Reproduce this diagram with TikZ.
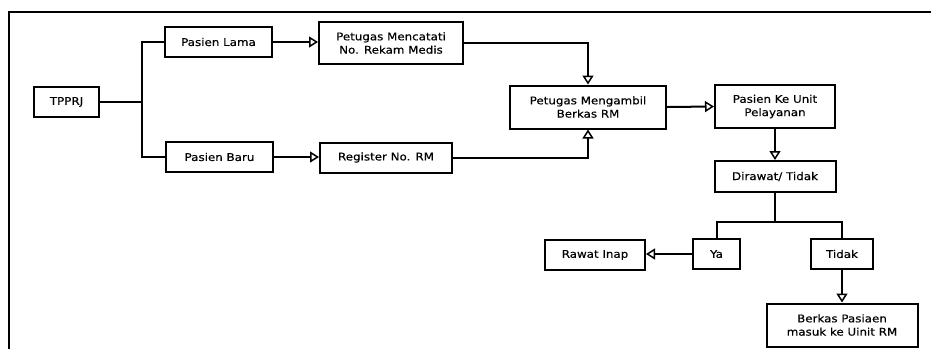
\documentclass[tikz,border=0pt]{standalone}
\usepackage{fontspec}
\setmainfont{DejaVu Sans}[FakeStretch=1.12,FakeBold=0.4]
\usetikzlibrary{arrows.meta}
\begin{document}
\begin{tikzpicture}[x=1pt,y=-1pt,
  box/.style={draw=black,line width=2pt,fill=white,inner sep=0pt,align=center,
    font=\fontsize{10.6pt}{13.3pt}\selectfont},
  conn/.style={line width=2pt,draw=black},
  arr/.style={conn,-{Triangle[open,length=9pt,width=11pt,line width=1.5pt]}}]
\useasboundingbox (0,0) rectangle (931,349);
\draw[line width=2pt] (9.3,349) -- (9.3,11.7) -- (931,11.7);
\node[box,minimum width=65pt,minimum height=30pt] (tpprj) at (66.5,102) {TPPRJ};
\node[box,minimum width=107pt,minimum height=30pt] (lama) at (218.5,42) {Pasien Lama};
\node[box,minimum width=144pt,minimum height=42pt] (catat) at (391,43) {Petugas Mencatati\\No. Rekam Medis};
\node[box,minimum width=107pt,minimum height=30pt] (baru) at (219.5,157) {Pasien Baru};
\node[box,minimum width=132pt,minimum height=30pt] (reg) at (386,157.5) {Register No. RM};
\node[box,minimum width=156pt,minimum height=43pt] (ambil) at (588,107) {Petugas Mengambil\\Berkas RM};
\node[box,minimum width=120pt,minimum height=43pt] (unit) at (775,106.5) {Pasien Ke Unit\\Pelayanan};
\node[box,minimum width=121pt,minimum height=31pt] (dirawat) at (775,176.5) {Dirawat/ Tidak};
\node[box,minimum width=47pt,minimum height=30pt] (ya) at (716.5,254) {Ya};
\node[box,minimum width=62pt,minimum height=30pt] (tidak) at (842,254) {Tidak};
\node[box,minimum width=100pt,minimum height=30pt] (inap) at (595,255) {Rawat Inap};
\node[box,minimum width=151pt,minimum height=43pt] (berkas) at (842,325) {Berkas Pasiaen\\masuk ke Uinit RM};
\coordinate (br) at (141.7,102);
\coordinate (sp) at (775,221.7);
\draw[conn] (tpprj.east) -- (br);
\draw[conn] (lama.west) -| (br) |- (baru.west);
\draw[arr] (lama.east) -- (lama.east -| catat.west);
\draw[arr] (baru.east) -- (baru.east -| reg.west);
\draw[arr] (catat.east) -| (ambil.north);
\draw[arr] (reg.east) -| (ambil.south);
\draw[arr] (ambil.east) -- (unit.west);
\draw[arr] (unit.south) -- (dirawat.north);
\draw[conn] (dirawat.south) -- (sp);
\draw[conn] (ya.north) |- (sp) -| (tidak.north);
\draw[arr] (ya.west) -- (ya.west -| inap.east);
\draw[arr] (tidak.south) -- (berkas.north);
\end{tikzpicture}
\end{document}
